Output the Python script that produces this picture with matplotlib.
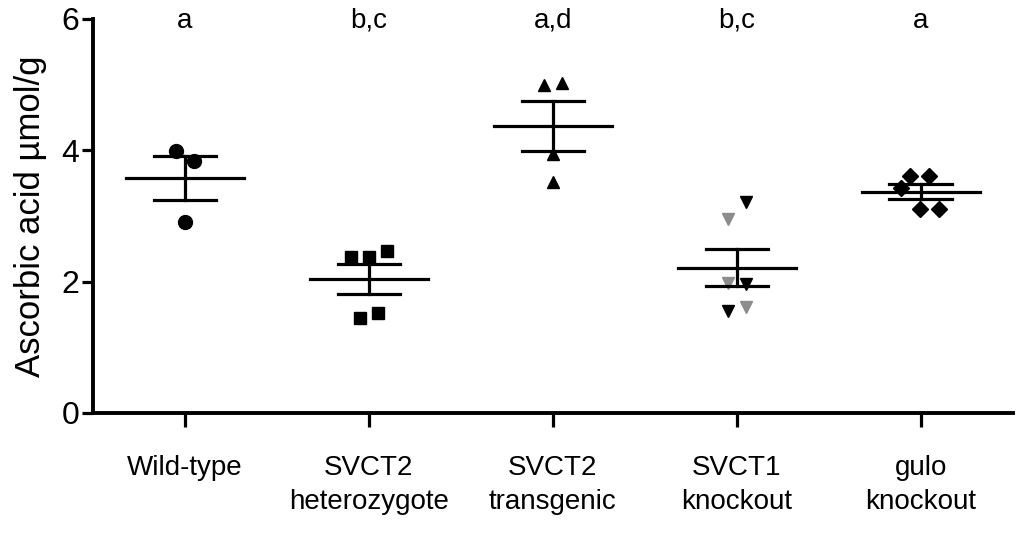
import numpy as np
import matplotlib
matplotlib.use("Agg")
import matplotlib.pyplot as plt

plt.rcParams["font.family"] = ["Liberation Sans", "DejaVu Sans"]

# ── data ────────────────────────────────────────────────────────
groups = ["Wild-type", "SVCT2\nheterozygote", "SVCT2\ntransgenic",
          "SVCT1\nknockout", "gulo\nknockout"]
letters = ["a", "b,c", "a,d", "b,c", "a"]

wild_type = [3.99, 3.83, 2.91]
svct2_het = [2.38, 2.38, 2.47, 1.44, 1.52]
svct2_tg = [5.00, 5.03, 3.95, 3.52]
svct1_ko = [3.21, 2.96, 1.98, 1.96, 1.55, 1.62]
gulo_ko = [3.61, 3.61, 3.43, 3.10, 3.10]

# ── style ───────────────────────────────────────────────────────
jitter = [
    [-0.05, 0.05, 0.0],
    [-0.10, 0.0, 0.10, -0.05, 0.05],
    [-0.05, 0.05, 0.0, 0.0],
    [0.05, -0.05, -0.05, 0.05, -0.05, 0.05],
    [-0.06, 0.045, -0.11, -0.005, 0.10],
]
markers = ["o", "s", "^", "v", "D"]
msizes = [10, 9, 9, 9, 8]
grey = "#8c8c8c"
point_colors = [
    ["k"] * 3,
    ["k"] * 5,
    ["k"] * 4,
    ["k", grey, grey, "k", "k", grey],
    ["k"] * 5,
]

series = [wild_type, svct2_het, svct2_tg, svct1_ko, gulo_ko]

fig = plt.figure(figsize=(10.24, 5.41), dpi=100)
ax = fig.add_axes([0.0908, 0.2366, 0.8982, 0.7283])

LW = 2.3
for i, vals in enumerate(series):
    vals = np.asarray(vals)
    xs = i + np.asarray(jitter[i])
    for x, v, c in zip(xs, vals, point_colors[i]):
        ax.plot(x, v, marker=markers[i], ms=msizes[i], color=c,
                markeredgecolor=c, ls="none", zorder=2)
    m = vals.mean()
    sem = vals.std(ddof=1) / np.sqrt(len(vals))
    ax.plot([i - 0.32, i + 0.32], [m, m], color="k", lw=LW, zorder=3)
    ax.plot([i - 0.17, i + 0.17], [m + sem, m + sem], color="k", lw=LW, zorder=3)
    ax.plot([i - 0.17, i + 0.17], [m - sem, m - sem], color="k", lw=LW, zorder=3)
    ax.plot([i, i], [m - sem, m + sem], color="k", lw=LW, zorder=3)
    ax.text(i, 5.97, letters[i], ha="center", va="center", fontsize=20)

ax.set_xlim(-0.5, 4.5)
ax.set_ylim(0, 6)
ax.set_yticks([0, 2, 4, 6])
ax.set_xticks(range(len(groups)))
ax.set_xticklabels(groups, fontsize=20, linespacing=1.4)
ax.tick_params(axis="y", labelsize=23, length=8, width=2.3, pad=2)
ax.tick_params(axis="x", length=10, width=2.3, pad=20)
ax.set_ylabel("Ascorbic acid µmol/g", fontsize=25, labelpad=10)

for s in ["top", "right"]:
    ax.spines[s].set_visible(False)
for s in ["left", "bottom"]:
    ax.spines[s].set_linewidth(2.8)

fig.savefig("out.png", dpi=100)
